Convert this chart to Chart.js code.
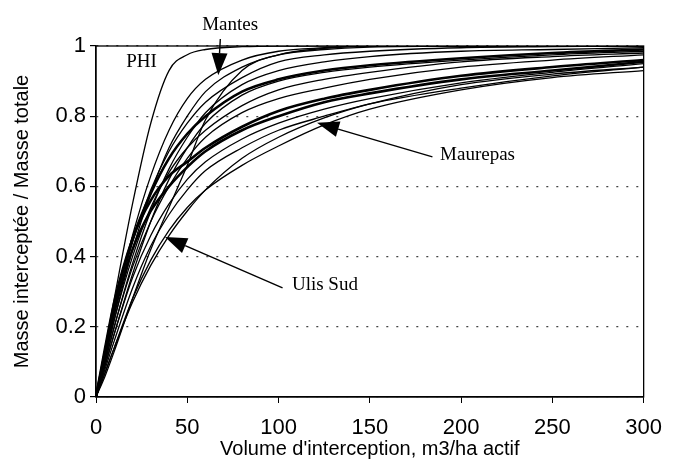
<!DOCTYPE html>
<html>
<head>
<meta charset="utf-8">
<script src="https://cdn.jsdelivr.net/npm/chart.js@4"></script>
<style>
  html, body { margin: 0; padding: 0; background: #fff; }
  #wrap { width: 674px; height: 474px; }
</style>
</head>
<body>
<div id="wrap"><canvas id="chart" width="674" height="474"></canvas></div>
<script>
// x positions shared by every curve (m3/ha actif)
const volumes = [0, 5, 10, 20, 30, 40, 50, 60, 80, 100, 125, 150, 200, 250, 300]

// interception ratio curves
const phi      = [0, 0.14, 0.28, 0.55, 0.78, 0.93, 0.975, 0.99, 0.998, 1, 1, 1, 1, 1, 1]
const mantesA  = [0, 0.12, 0.25, 0.46, 0.63, 0.76, 0.85, 0.905, 0.96, 0.985, 0.995, 1, 1, 1, 1]
const mantesB  = [0, 0.11, 0.22, 0.42, 0.58, 0.71, 0.80, 0.87, 0.94, 0.975, 0.99, 0.997, 1, 1, 1]
const mantesC  = [0, 0.06, 0.13, 0.28, 0.42, 0.54, 0.66, 0.79, 0.93, 0.975, 0.993, 1, 1, 1, 1]
const siteB1   = [0, 0.12, 0.24, 0.44, 0.59, 0.70, 0.78, 0.84, 0.91, 0.955, 0.975, 0.985, 0.995, 0.998, 1]
const siteB2   = [0, 0.10, 0.20, 0.38, 0.53, 0.65, 0.74, 0.81, 0.89, 0.93, 0.955, 0.97, 0.985, 0.99, 0.995]
const siteB3   = [0, 0.13, 0.26, 0.45, 0.58, 0.68, 0.75, 0.80, 0.87, 0.905, 0.93, 0.945, 0.965, 0.98, 0.99]
const siteB4   = [0, 0.09, 0.18, 0.35, 0.50, 0.62, 0.71, 0.78, 0.86, 0.90, 0.925, 0.94, 0.96, 0.975, 0.985]
const siteB5   = [0, 0.11, 0.22, 0.40, 0.54, 0.64, 0.71, 0.76, 0.83, 0.875, 0.905, 0.925, 0.955, 0.97, 0.98]
const siteB6   = [0, 0.10, 0.20, 0.37, 0.50, 0.60, 0.68, 0.74, 0.81, 0.85, 0.88, 0.905, 0.94, 0.96, 0.975]
const siteC1   = [0, 0.14, 0.27, 0.45, 0.56, 0.63, 0.67, 0.71, 0.77, 0.815, 0.85, 0.875, 0.915, 0.94, 0.96]
const siteC2   = [0, 0.12, 0.24, 0.42, 0.53, 0.60, 0.655, 0.70, 0.76, 0.80, 0.84, 0.865, 0.905, 0.93, 0.955]
const siteC3   = [0, 0.09, 0.18, 0.34, 0.46, 0.55, 0.62, 0.67, 0.735, 0.78, 0.82, 0.85, 0.895, 0.925, 0.95]
const siteC4   = [0, 0.08, 0.16, 0.31, 0.43, 0.52, 0.59, 0.645, 0.71, 0.76, 0.80, 0.835, 0.88, 0.915, 0.94]
const maurepas = [0, 0.07, 0.14, 0.28, 0.39, 0.475, 0.54, 0.59, 0.66, 0.715, 0.775, 0.82, 0.875, 0.91, 0.93]
const ulisSud  = [0, 0.07, 0.14, 0.27, 0.375, 0.46, 0.53, 0.59, 0.68, 0.74, 0.795, 0.835, 0.89, 0.92, 0.94]

const curves = [phi, mantesA, mantesB, mantesC, siteB1, siteB2, siteB3, siteB4, siteB5,
  siteB6, siteC1, siteC2, siteC3, siteC4, maurepas, ulisSud]
const thickCurves = [siteC1, siteC2, siteB3]

const xTicks = [0, 50, 100, 150, 200, 250, 300]
const yTicks = [0, 0.2, 0.4, 0.6, 0.8, 1]

// callout labels: text, text position, arrow start and tip (data units)
const callouts = [
  { text: "Mantes",   at: [73.5, 1.06],  from: [68.1, 1.02],  tip: [67, 0.917] },
  { text: "PHI",      at: [24.9, 0.954] },
  { text: "Maurepas", at: [209, 0.689],  from: [184.3, 0.684], tip: [121.1, 0.781] },
  { text: "Ulis Sud", at: [125.4, 0.319], from: [102.2, 0.311], tip: [37.8, 0.456] }
]

const datasets = curves.map((vals) => ({
  data: vals.map((v, i) => ({ x: volumes[i], y: v })),
  borderColor: "#000",
  borderWidth: thickCurves.includes(vals) ? 2.6 : 1.3,
  pointRadius: 0,
  fill: false,
  cubicInterpolationMode: "monotone"
}))

const frame = {
  id: "frame",
  beforeDatasetsDraw(chart) {
    const { ctx, chartArea: a } = chart
    ctx.save()
    ctx.strokeStyle = "#000"
    ctx.lineWidth = 1.3
    ctx.strokeRect(a.left, a.top, a.right - a.left, a.bottom - a.top)
    ctx.restore()
  }
}

function arrow(ctx, x1, y1, x2, y2) {
  const ang = Math.atan2(y2 - y1, x2 - x1)
  const len = 22, half = 8
  const bx = x2 - len * Math.cos(ang), by = y2 - len * Math.sin(ang)
  ctx.beginPath()
  ctx.moveTo(x1, y1)
  ctx.lineTo(bx, by)
  ctx.lineWidth = 1.4
  ctx.stroke()
  ctx.beginPath()
  ctx.moveTo(x2, y2)
  ctx.lineTo(bx + half * Math.sin(ang), by - half * Math.cos(ang))
  ctx.lineTo(bx - half * Math.sin(ang), by + half * Math.cos(ang))
  ctx.closePath()
  ctx.fill()
}

const labels = {
  id: "labels",
  afterDraw(chart) {
    const { ctx, scales: { x, y } } = chart
    ctx.save()
    ctx.fillStyle = "#000"
    ctx.strokeStyle = "#000"
    ctx.font = "19px 'Liberation Serif', 'Times New Roman', serif"
    ctx.textAlign = "center"
    ctx.textBaseline = "middle"
    callouts.forEach((c) => {
      ctx.fillText(c.text, x.getPixelForValue(c.at[0]), y.getPixelForValue(c.at[1]))
      if (c.tip) {
        arrow(ctx,
          x.getPixelForValue(c.from[0]), y.getPixelForValue(c.from[1]),
          x.getPixelForValue(c.tip[0]), y.getPixelForValue(c.tip[1]))
      }
    })
    ctx.restore()
  }
}

const tickFont = { family: "'Liberation Sans', Arial, sans-serif", size: 22 }
const titleFont = { family: "'Liberation Sans', Arial, sans-serif", size: 20 }

new Chart(document.getElementById("chart"), {
  type: "line",
  data: { datasets },
  plugins: [frame, labels],
  options: {
    responsive: false,
    animation: false,
    events: [],
    layout: { padding: { left: 6, top: 46, right: 23, bottom: 10 } },
    plugins: { legend: { display: false }, tooltip: { enabled: false } },
    scales: {
      x: {
        type: "linear",
        min: 0,
        max: 300,
        afterFit(scale) { scale.height = 67 },
        afterBuildTicks(scale) { scale.ticks = xTicks.map((v) => ({ value: v })) },
        ticks: { color: "#000", font: tickFont, padding: 12, maxRotation: 0 },
        grid: { drawOnChartArea: false, drawTicks: true, tickLength: 6, color: "#000" },
        border: { color: "#000", width: 1.3 },
        title: {
          display: true,
          text: "Volume d'interception, m3/ha actif",
          color: "#000",
          font: titleFont,
          padding: { top: 0, bottom: 3 }
        }
      },
      y: {
        min: 0,
        max: 1,
        afterFit(scale) { scale.width = 90 },
        afterBuildTicks(scale) { scale.ticks = yTicks.map((v) => ({ value: v })) },
        ticks: { color: "#000", font: tickFont, padding: 4, callback: (v) => String(v) },
        grid: { color: "#444", lineWidth: 1.2, tickLength: 6, tickColor: "#000", tickBorderDash: [] },
        border: { color: "#000", width: 1.3, dash: [2, 8] },
        title: {
          display: true,
          text: "Masse interceptée / Masse totale",
          color: "#000",
          font: titleFont,
          padding: { top: 4, bottom: 0 }
        }
      }
    }
  }
})
</script>
</body>
</html>
